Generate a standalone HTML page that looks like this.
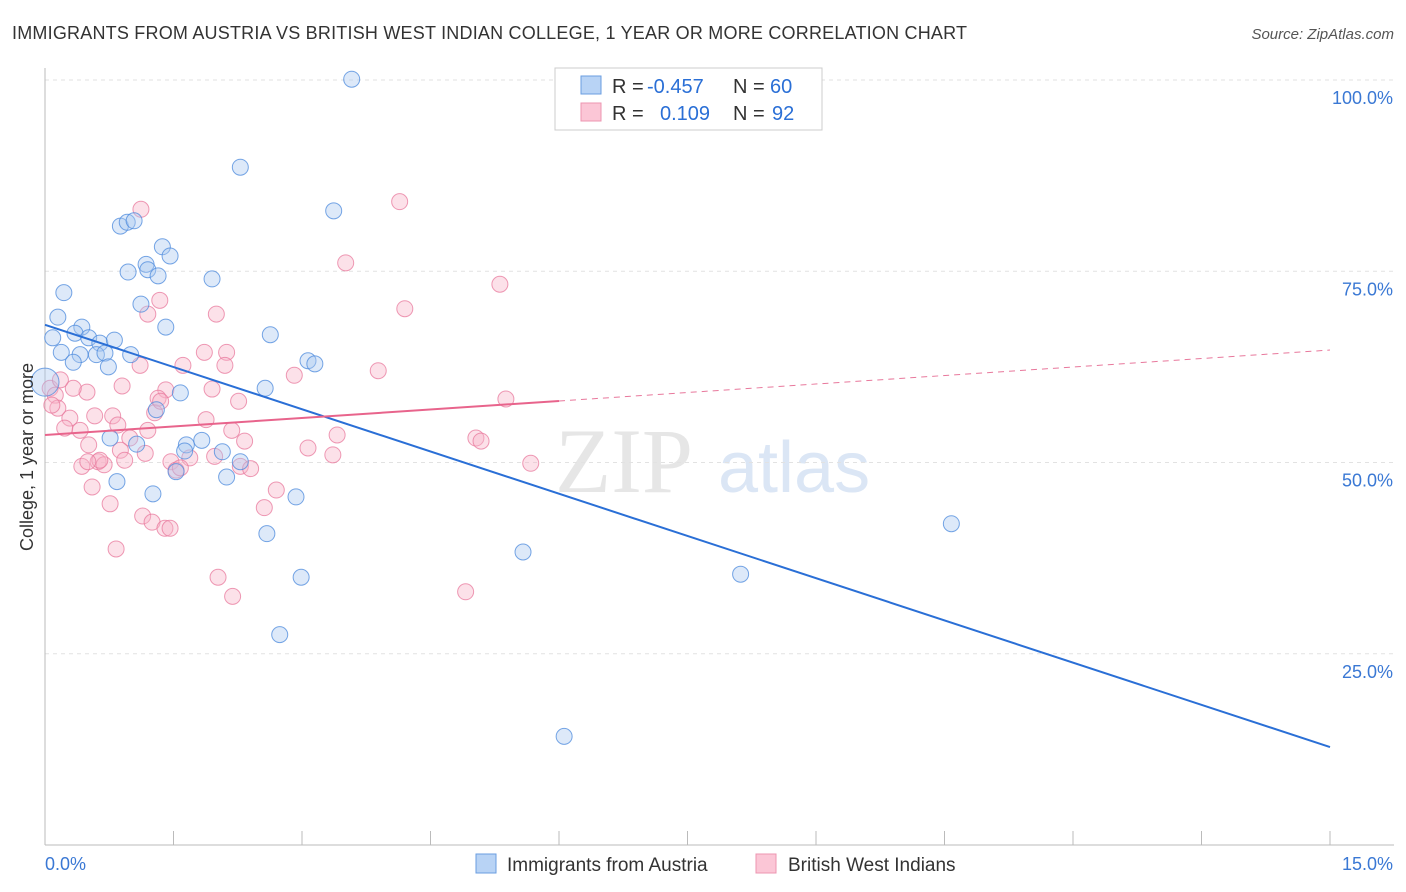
<!DOCTYPE html>
<html><head><meta charset="utf-8"><style>
body{margin:0;background:#fff;font-family:"Liberation Sans",sans-serif}
svg{display:block}
</style></head><body>
<svg id="chart" width="1406" height="892" viewBox="0 0 1406 892" xmlns="http://www.w3.org/2000/svg">
<text x="12" y="39" font-size="18" fill="#333" textLength="955">IMMIGRANTS FROM AUSTRIA VS BRITISH WEST INDIAN COLLEGE, 1 YEAR OR MORE CORRELATION CHART</text>
<text x="1394" y="39" font-size="15" font-style="italic" fill="#555" text-anchor="end">Source: ZipAtlas.com</text>
<g>
<text x="555" y="492" font-size="92" fill="#e6e6e6" font-family="Liberation Serif">ZIP</text>
<text x="718" y="492" font-size="72" fill="#dbe6f5">atlas</text>
</g>
<g id="grid"></g>
<g id="axes"></g>
<g id="marks"></g>
<g id="lines"></g>
<g>
<rect x="555" y="68" width="267" height="62" fill="#fff" stroke="#ccc"/>
<rect x="581" y="76" width="20" height="18" fill="#b8d3f5" stroke="#6a9ee0"/>
<rect x="581" y="103" width="20" height="18" fill="#fbc6d6" stroke="#ec95b0"/>
<text x="612" y="93" font-size="20" fill="#333">R =</text>
<text x="647" y="93" font-size="20" fill="#2a6fd6">-0.457</text>
<text x="733" y="93" font-size="20" fill="#333">N =</text>
<text x="770" y="93" font-size="20" fill="#2a6fd6">60</text>
<text x="612" y="120" font-size="20" fill="#333">R =</text>
<text x="660" y="120" font-size="20" fill="#2a6fd6">0.109</text>
<text x="733" y="120" font-size="20" fill="#333">N =</text>
<text x="772" y="120" font-size="20" fill="#2a6fd6">92</text>
</g>
<g>
<rect x="476" y="854" width="20" height="19" fill="#b8d3f5" stroke="#6a9ee0"/>
<text x="507" y="871" font-size="19" fill="#333">Immigrants from Austria</text>
<rect x="756" y="854" width="20" height="19" fill="#fbc6d6" stroke="#ec95b0"/>
<text x="788" y="871" font-size="19" fill="#333">British West Indians</text>
</g>
<text transform="translate(33,457) rotate(-90)" font-size="18" fill="#333" text-anchor="middle">College, 1 year or more</text>
</svg>
<script>
const yTicks=[25,50,75,100];
const yTickLabels=["25.0%","50.0%","75.0%","100.0%"];
const xTickLabels=["0.0%","15.0%"];
const blueX=[3.58,2.28,3.37,0.88,0.96,1.04,1.37,1.46,1.18,1.20,0.97,1.32,1.95,0.22,1.12,0.15,1.41,0.43,2.63,0.09,0.35,0.51,0.64,0.81,0.19,0.41,0.60,0.70,1.00,0.33,0.74,3.07,3.15,0.0,2.57,1.58,1.30,0.76,1.07,1.65,1.83,1.63,2.07,2.28,1.53,2.12,0.84,1.26,2.93,2.59,5.58,2.99,8.12,10.58,2.74,6.06];
const blueY=[100.1,88.6,82.9,80.9,81.4,81.6,78.2,77.0,75.9,75.2,74.9,74.4,74.0,72.2,70.7,69.0,67.7,67.7,66.7,66.3,66.9,66.3,65.6,66.0,64.4,64.1,64.1,64.3,64.1,63.1,62.5,63.3,62.9,60.5,59.7,59.1,56.9,53.2,52.4,52.3,52.9,51.5,51.4,50.1,48.8,48.1,47.5,45.9,45.5,40.7,38.3,35.0,35.4,42.0,27.5,14.2];
const pinkX=[1.12,4.14,3.51,5.31,4.20,1.34,1.20,2.00,1.86,2.12,2.10,1.61,1.11,0.90,1.95,1.41,1.32,0.49,0.33,0.06,0.12,0.15,0.29,0.23,0.41,0.58,0.79,1.28,2.26,2.91,3.89,5.38,1.88,2.18,0.85,1.20,0.99,2.33,0.51,0.88,1.47,0.62,0.69,0.43,1.17,1.53,1.69,1.98,2.28,2.40,3.07,3.41,3.36,5.03,5.09,5.67,0.55,0.76,2.56,2.70,1.14,1.25,1.40,1.46,0.83,2.02,2.19,4.91,0.18,0.08,1.58,1.35,0.64,0.93,0.50];
const pinkY=[83.1,84.1,76.1,73.3,70.1,71.2,69.4,69.4,64.4,64.4,62.7,62.7,62.7,60.0,59.6,59.5,58.4,59.2,59.7,59.7,58.8,57.1,55.8,54.5,54.2,56.1,56.1,56.5,58.0,61.4,62.0,58.3,55.6,54.2,54.9,54.2,53.2,52.8,52.3,51.6,50.1,50.1,49.7,49.5,51.2,49.0,50.6,50.8,49.5,49.2,51.9,53.6,51.0,53.2,52.8,49.9,46.8,44.6,44.1,46.4,43.0,42.2,41.4,41.4,38.7,35.0,32.5,33.1,60.8,57.5,49.3,58.0,50.3,50.3,50.1];
const blueTrend=[68.0,12.8];
const pinkTrend=[53.6,64.7];
const pinkSolidEnd=6;

const NS="http://www.w3.org/2000/svg";
const X0=45,X1=1330,Y0=845,Y100=80;
function sx(v){return X0+(X1-X0)*v/15;}
function sy(v){return Y0-(Y0-Y100)*v/100;}
function mk(tag,attrs,parent){const e=document.createElementNS(NS,tag);for(const k in attrs)e.setAttribute(k,attrs[k]);parent.appendChild(e);return e;}
const grid=document.getElementById('grid'),axes=document.getElementById('axes'),marks=document.getElementById('marks'),lines=document.getElementById('lines');
yTicks.forEach((t,i)=>{
 const l=mk('line',{x1:X0,x2:1394,y1:sy(t),y2:sy(t),stroke:'#e2e2e2','stroke-dasharray':'4,4'},grid);
 
 
 const tx=mk('text',{x:1393,y:sy(t)+24,'font-size':18,fill:'#3a78d4','text-anchor':'end'},axes);
 tx.textContent=yTickLabels[i];
 
 
});
const ax=mk('line',{x1:X0,x2:1394,y1:Y0,y2:Y0,stroke:'#bbb'},axes);


const ay=mk('line',{x1:X0,x2:X0,y1:68,y2:Y0,stroke:'#bbb'},axes);


for(let i=0;i<=10;i++){
 const t=mk('line',{x1:sx(i*1.5),x2:sx(i*1.5),y1:Y0,y2:Y0-14,stroke:'#bbb'},axes);
 
 
}
const xl0=mk('text',{x:45,y:870,'font-size':18,fill:'#3a78d4'},axes);xl0.textContent=xTickLabels[0];


const xl1=mk('text',{x:1393,y:870,'font-size':18,fill:'#3a78d4','text-anchor':'end'},axes);xl1.textContent=xTickLabels[1];


function pts(xs,ys,fill,stroke,name){
 xs.forEach((x,i)=>{
  const c=mk('circle',{cx:sx(x),cy:sy(ys[i]),r:(x===0&&name==='blue-point')?14:8,fill:fill,'fill-opacity':0.4,stroke:stroke,'stroke-opacity':0.75,'stroke-width':1},marks);
  
  
 });
}
pts(pinkX,pinkY,'#f7b3c8','#e8789c','pink-point');
pts(blueX,blueY,'#a9c9f1','#4a88dc','blue-point');
const bl=mk('line',{x1:sx(0),y1:sy(blueTrend[0]),x2:sx(15),y2:sy(blueTrend[1]),stroke:'#2a6fd6','stroke-width':2},lines);


const pm=pinkTrend[0]+(pinkTrend[1]-pinkTrend[0])*pinkSolidEnd/15;
const pl=mk('line',{x1:sx(0),y1:sy(pinkTrend[0]),x2:sx(pinkSolidEnd),y2:sy(pm),stroke:'#e8648c','stroke-width':2},lines);


const pd=mk('line',{x1:sx(pinkSolidEnd),y1:sy(pm),x2:sx(15),y2:sy(pinkTrend[1]),stroke:'#e8789c','stroke-width':1,'stroke-dasharray':'6,5'},lines);


</script>
</body></html>
